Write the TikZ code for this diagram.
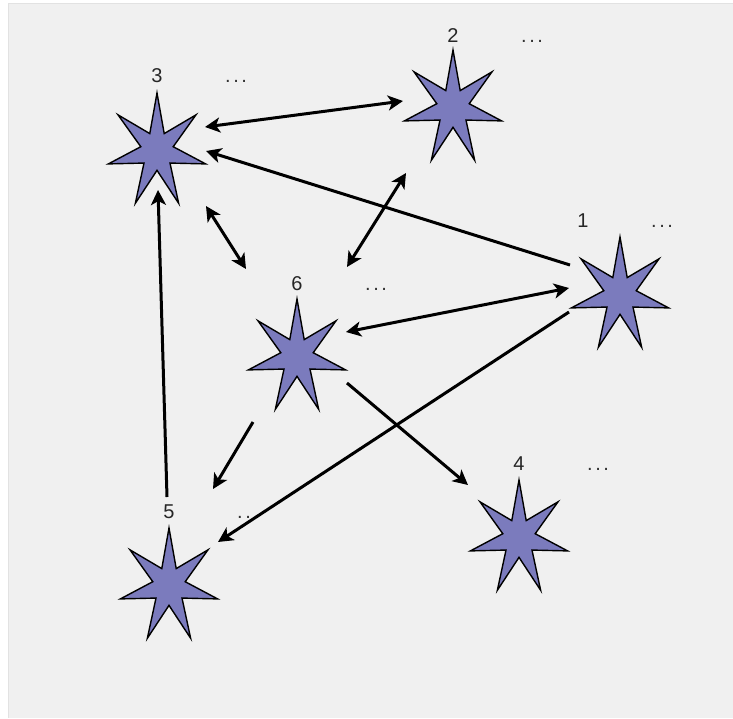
\documentclass[tikz,border=0pt]{standalone}
\usepackage{fontspec}
\setmainfont{Liberation Sans}
\usetikzlibrary{shapes.geometric,arrows.meta}
\definecolor{starfill}{HTML}{7B7BBD}
\definecolor{panel}{HTML}{F0F0F0}
\definecolor{panelrule}{HTML}{E2E2E2}

\begin{document}
\begin{tikzpicture}[x=1pt, y=-1pt,
  >={Stealth[length=15pt, width=15pt, inset=4pt]},
  starnode/.style={star, star points=7, star point ratio=3, minimum size=116pt, inner sep=0pt, xscale=0.86, draw=black, line width=1.4pt, fill=starfill},
  num/.style={font=\fontsize{20}{24}\selectfont, anchor=base, inner sep=0pt, text=black!85},
  more/.style={num, anchor=base west, text=black!80},
  link/.style={->, line width=3pt},
  both/.style={<->, line width=3pt}]
\useasboundingbox (0,0) rectangle (733,718);
% panel
\fill[white] (0,0) rectangle (733,718);
\fill[panel] (8,3) rectangle (733,718);
\draw[panelrule, line width=0.8pt] (8,718) -- (8,3) -- (733,3);
% stars
\node[starnode] (s1) at (620,295) {};
\node[starnode] (s2) at (453,108) {};
\node[starnode] (s3) at (157,151) {};
\node[starnode] (s4) at (519,538) {};
\node[starnode] (s5) at (169,586) {};
\node[starnode] (s6) at (297,357) {};
% labels
\newcommand\dotdotdot{.\hspace{2.5pt}.\hspace{2.5pt}.}
\node[num] (n1) at (583,227) {1};
\node[more] (m1) at (651,227) {\dotdotdot};
\node[num] (n2) at (453,42) {2};
\node[more] (m2) at (521,42) {\dotdotdot};
\node[num] (n3) at (157,82) {3};
\node[more] (m3) at (225,82) {\dotdotdot};
\node[num] (n4) at (519,470) {4};
\node[more] (m4) at (587,470) {\dotdotdot};
\node[num] (n5) at (169,518) {5};
\node[more] (m5) at (237,518) {\dotdotdot};
\node[num] (n6) at (297,290) {6};
\node[more] (m6) at (365,290) {\dotdotdot};
% links
\draw[both] ([shift={(48,-24)}]s3.center) -- ([shift={(-50,-7)}]s2.center);
\draw[link] ([shift={(-50,-30)}]s1.center) -- ([shift={(49,0)}]s3.center);
\draw[both] ([shift={(-47,65)}]s2.center) -- ([shift={(50,-90)}]s6.center);
\draw[both] ([shift={(49,55)}]s3.center) -- ([shift={(-51,-88)}]s6.center);
\draw[both] ([shift={(-51,-7)}]s1.center) -- ([shift={(49,-25)}]s6.center);
\draw[link] ([shift={(50,26)}]s6.center) -- ([shift={(-51,-53)}]s4.center);
\draw[link] ([shift={(-44,65)}]s6.center) -- ([shift={(44,-97)}]s5.center);
\draw[link] ([shift={(-51,17)}]s1.center) -- ([shift={(49,-44)}]s5.center);
\draw[link] ([shift={(-2,-89)}]s5.center) -- ([shift={(1,39)}]s3.center);
\end{tikzpicture}
\end{document}
